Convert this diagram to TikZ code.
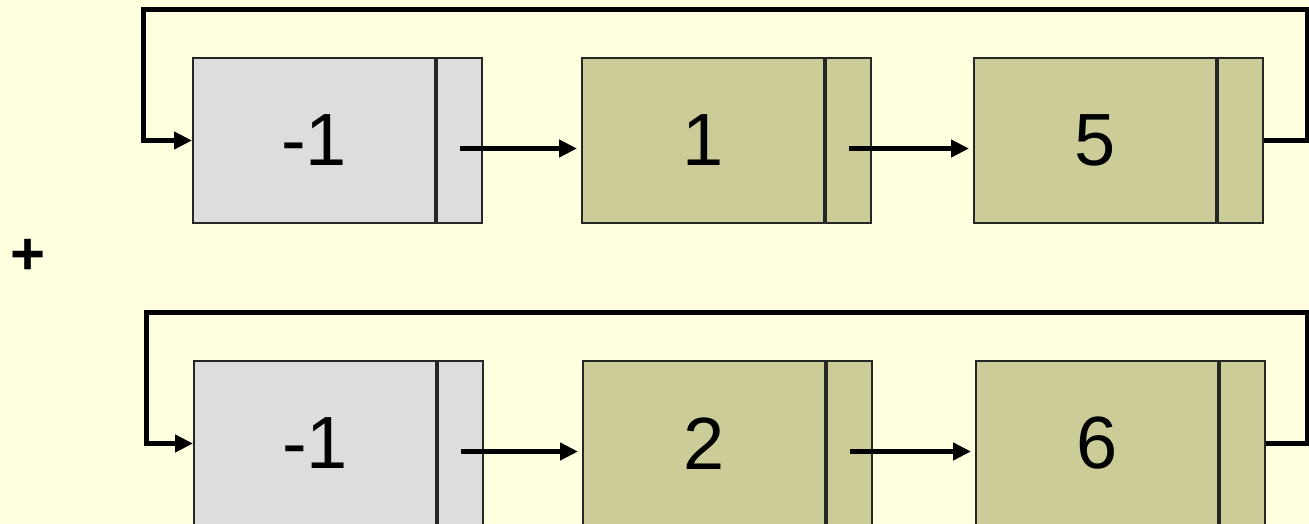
\documentclass[tikz,border=0pt]{standalone}
\usepackage{fontspec}
\setmainfont{Liberation Sans}
\usetikzlibrary{arrows.meta}
\definecolor{bgyellow}{HTML}{FFFFE0}
\definecolor{headgray}{HTML}{DDDDDD}
\definecolor{olivefill}{HTML}{CCCC99}
\begin{document}
\begin{tikzpicture}[x=1pt,y=-1pt,
  datacell/.style={draw=black!85, line width=2pt, minimum width=242pt, minimum height=165pt, inner sep=0pt, anchor=north west, font=\fontsize{74}{80}\selectfont},
  ptrcell/.style={draw=black!85, line width=2pt, minimum width=45pt, minimum height=165pt, inner sep=0pt, anchor=north west},
  link/.style={line width=5pt, -{Triangle[length=18pt,width=17pt]}},
  fwd/.style={link, shorten >=4pt},
  plussign/.style={font=\fontsize{60}{60}\selectfont\bfseries, inner sep=0pt}]
\fill[bgyellow] (0,0) rectangle (1309,524);
\useasboundingbox (0,0) rectangle (1309,524);
\clip (0,0) rectangle (1309,524);
% top list
\node[datacell, fill=headgray] (a1) at (192,57) {-1};
\node[ptrcell, fill=headgray] (ap1) at (a1.north east) {};
\node[datacell, fill=olivefill] (a2) at (581,57) {1};
\node[ptrcell, fill=olivefill] (ap2) at (a2.north east) {};
\node[datacell, fill=olivefill] (a3) at (973,57) {5};
\node[ptrcell, fill=olivefill] (ap3) at (a3.north east) {};
\draw[fwd] ([yshift=-8pt]ap1.center) -- ([yshift=-8pt]ap1.center -| a2.west);
\draw[fwd] ([yshift=-8pt]ap2.center) -- ([yshift=-8pt]ap2.center -| a3.west);
\coordinate (atr) at (1307,10);
\coordinate (atl) at (143,10);
\draw[link] (ap3.east) -| (atr) -- (atl) |- (a1.west);
% plus
\node[plussign] (plus) at (28,257) {+};
% bottom list
\node[datacell, fill=headgray] (b1) at (193,360) {-1};
\node[ptrcell, fill=headgray] (bp1) at (b1.north east) {};
\node[datacell, fill=olivefill] (b2) at (582,360) {2};
\node[ptrcell, fill=olivefill] (bp2) at (b2.north east) {};
\node[datacell, fill=olivefill] (b3) at (975,360) {6};
\node[ptrcell, fill=olivefill] (bp3) at (b3.north east) {};
\draw[fwd] ([yshift=-8pt]bp1.center) -- ([yshift=-8pt]bp1.center -| b2.west);
\draw[fwd] ([yshift=-8pt]bp2.center) -- ([yshift=-8pt]bp2.center -| b3.west);
\coordinate (btr) at (1307,312);
\coordinate (btl) at (146,312);
\draw[link] (bp3.east) -| (btr) -- (btl) |- (b1.west);
\end{tikzpicture}
\end{document}
